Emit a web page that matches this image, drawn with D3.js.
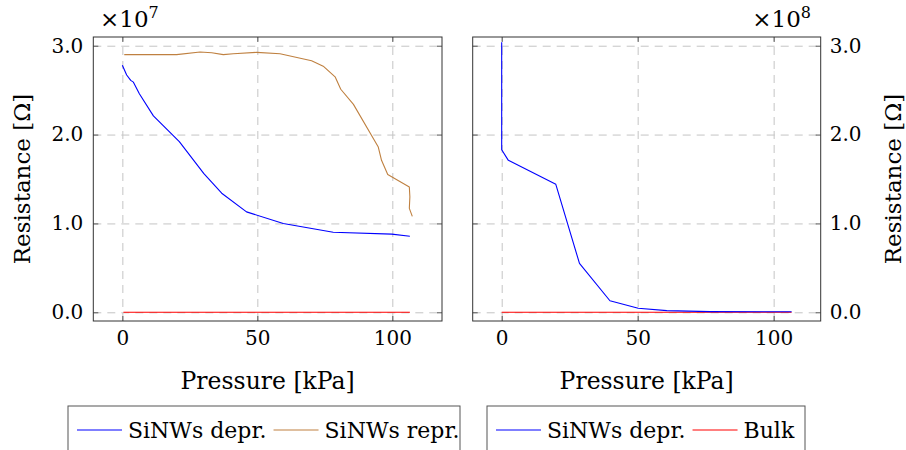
<!DOCTYPE html>
<html>
<head>
<meta charset="utf-8">
<script src="https://cdn.jsdelivr.net/npm/d3@7"></script>
<style>
  body { margin: 0; background: #fff; }
  text { font-family: "DejaVu Serif", serif; fill: #000; }
</style>
</head>
<body>
<script>
// left panel (x10^7 Ohm)
var leftDeprPressure = [0, 1.6, 3.1, 4.1, 6.3, 11.5, 21.1, 30.2, 36.8, 46.0, 59.6, 78.1, 99.8, 106.5];
var leftDeprResistance = [2.78e7, 2.67e7, 2.61e7, 2.59e7, 2.46e7, 2.21e7, 1.92e7, 1.56e7, 1.34e7, 1.13e7, 1.00e7, 0.90e7, 0.88e7, 0.855e7];
var leftReprPressure = [0.7, 20.1, 28.8, 33.1, 37.4, 41.1, 49.8, 58.4, 70.1, 74.4, 78.8, 80.9, 85.6, 94.8, 96.0, 98.3, 106.3, 106.5, 106.3, 107.4];
var leftReprResistance = [2.90e7, 2.90e7, 2.93e7, 2.92e7, 2.90e7, 2.91e7, 2.925e7, 2.91e7, 2.83e7, 2.77e7, 2.65e7, 2.51e7, 2.34e7, 1.86e7, 1.71e7, 1.55e7, 1.41e7, 1.30e7, 1.17e7, 1.08e7];
var leftBulkPressure = [0.4, 106.5];
var leftBulkResistance = [0, 0];
// right panel (x10^8 Ohm)
var rightDeprPressure = [0, 0, 0, 0, 0, 2.45, 19.9, 28.6, 39.8, 50.2, 60.7, 76.6, 106.6];
var rightDeprResistance = [3.04e8, 2.59e8, 3.0e8, 2.62e8, 1.83e8, 1.71e8, 1.44e8, 0.55e8, 0.13e8, 0.045e8, 0.019e8, 0.008e8, 0.006e8];
var rightBulkPressure = [0, 106.6];
var rightBulkResistance = [0, 0];

var xTicks = [0, 50, 100];
var yTicks = [0, 1, 2, 3];

var blue = "#0000ff", brown = "#bf8040", red = "#ff0000";

var svg = d3.select("body").append("svg").attr("width", 906).attr("height", 450);

function makePanel(opts) {
    var x = d3.scaleLinear().domain(opts.xDomain).range([opts.left, opts.right]);
    var y = d3.scaleLinear().domain([-0.098, 3.098]).range([321, 37]);
    var top = 37, bottom = 321;
    var g = svg.append("g");

    // grid
    g.append("g").attr("transform", "translate(0," + bottom + ")")
        .call(d3.axisBottom(x).tickValues(xTicks).tickSize(-(bottom - top)).tickFormat(""))
        .call(s => s.select(".domain").remove())
        .selectAll("line").attr("stroke", "#c4c4c4").attr("stroke-dasharray", "8,6");
    g.append("g").attr("transform", "translate(" + opts.left + ",0)")
        .call(d3.axisLeft(y).tickValues(yTicks).tickSize(-(opts.right - opts.left)).tickFormat(""))
        .call(s => s.select(".domain").remove())
        .selectAll("line").attr("stroke", "#c4c4c4").attr("stroke-dasharray", "8,6");

    // lines
    var line = d3.line().x(d => x(d[0])).y(d => y(d[1] / opts.factor));
    opts.series.forEach(function (s) {
        g.append("path")
            .datum(d3.zip(s.px, s.py))
            .attr("fill", "none")
            .attr("stroke", s.color)
            .attr("stroke-width", 1.1)
            .attr("stroke-linejoin", "round")
            .attr("d", line);
    });

    // axes with inward ticks
    var labelFmt = d3.format(".1f");
    var bAxis = g.append("g").attr("transform", "translate(0," + bottom + ")")
        .call(d3.axisBottom(x).tickValues(xTicks).tickSize(-5).tickPadding(10).tickFormat(d3.format("d")));
    var tAxis = g.append("g").attr("transform", "translate(0," + top + ")")
        .call(d3.axisTop(x).tickValues(xTicks).tickSize(-5).tickFormat(""));
    var lAxis = g.append("g").attr("transform", "translate(" + opts.left + ",0)")
        .call(d3.axisLeft(y).tickValues(yTicks).tickSize(-5).tickPadding(10)
            .tickFormat(opts.labelsRight ? "" : labelFmt));
    var rAxis = g.append("g").attr("transform", "translate(" + opts.right + ",0)")
        .call(d3.axisRight(y).tickValues(yTicks).tickSize(-5).tickPadding(9)
            .tickFormat(opts.labelsRight ? labelFmt : ""));
    [bAxis, tAxis, lAxis, rAxis].forEach(function (a) {
        a.select(".domain").remove();
        a.selectAll("line").attr("stroke", "#555").attr("stroke-width", 1);
        a.selectAll("text").style("font-family", "DejaVu Serif").style("font-size", "20px").attr("fill", "#000");
    });
    bAxis.selectAll("text").attr("dy", "0.72em");

    // frame
    g.append("rect").attr("x", opts.left).attr("y", top)
        .attr("width", opts.right - opts.left).attr("height", bottom - top)
        .attr("fill", "none").attr("stroke", "#333").attr("stroke-width", 1);

    // multiplier
    var mult = g.append("text").attr("x", opts.multX).attr("y", 27)
        .attr("text-anchor", opts.labelsRight ? "end" : "start").style("font-size", "23px");
    mult.append("tspan").text("\u00d710");
    mult.append("tspan").attr("dy", -9).style("font-size", "16px").text(opts.exponent);

    // axis titles
    g.append("text").attr("x", (opts.left + opts.right) / 2).attr("y", 389)
        .attr("text-anchor", "middle").style("font-size", "23.5px").text("Pressure [kPa]");
    g.append("text")
        .attr("transform", "translate(" + opts.yLabelX + "," + (top + bottom) / 2 + ") rotate(-90)")
        .attr("text-anchor", "middle").attr("dominant-baseline", "central")
        .style("font-size", "23px").text("Resistance [\u03a9]");

    // legend
    var lg = g.append("g");
    lg.append("rect").attr("x", opts.legend[0]).attr("y", 406)
        .attr("width", opts.legend[1] - opts.legend[0]).attr("height", 80)
        .attr("fill", "#fff").attr("stroke", "#555").attr("stroke-width", 1);
    var cx = opts.legend[0] + 9;
    opts.legendOrder.forEach(function (i) {
        var s = opts.series[i];
        lg.append("line").attr("x1", cx).attr("x2", cx + 45).attr("y1", 430).attr("y2", 430)
            .attr("stroke", s.color).attr("stroke-width", 1.1);
        var t = lg.append("text").attr("x", cx + 51).attr("y", 438).style("font-size", "22px").text(s.label);
        cx += 51 + t.node().getComputedTextLength() + 7;
    });
}

makePanel({
    left: 93.3, right: 442, xDomain: [-10.76, 118.4], factor: 1e7, exponent: "7",
    multX: 100, labelsRight: false, yLabelX: 22, legend: [68, 460], legendOrder: [0, 1],
    series: [
        { px: leftDeprPressure, py: leftDeprResistance, color: blue, label: "SiNWs depr." },
        { px: leftReprPressure, py: leftReprResistance, color: brown, label: "SiNWs repr." },
        { px: leftBulkPressure, py: leftBulkResistance, color: red, label: "Bulk" }
    ]
});
makePanel({
    left: 472.7, right: 820.7, xDomain: [-10.66, 117.3], factor: 1e8, exponent: "8",
    multX: 811, labelsRight: true, yLabelX: 893, legend: [487, 805], legendOrder: [1, 0],
    series: [
        { px: rightBulkPressure, py: rightBulkResistance, color: red, label: "Bulk" },
        { px: rightDeprPressure, py: rightDeprResistance, color: blue, label: "SiNWs depr." }
    ]
});
</script>
</body>
</html>
